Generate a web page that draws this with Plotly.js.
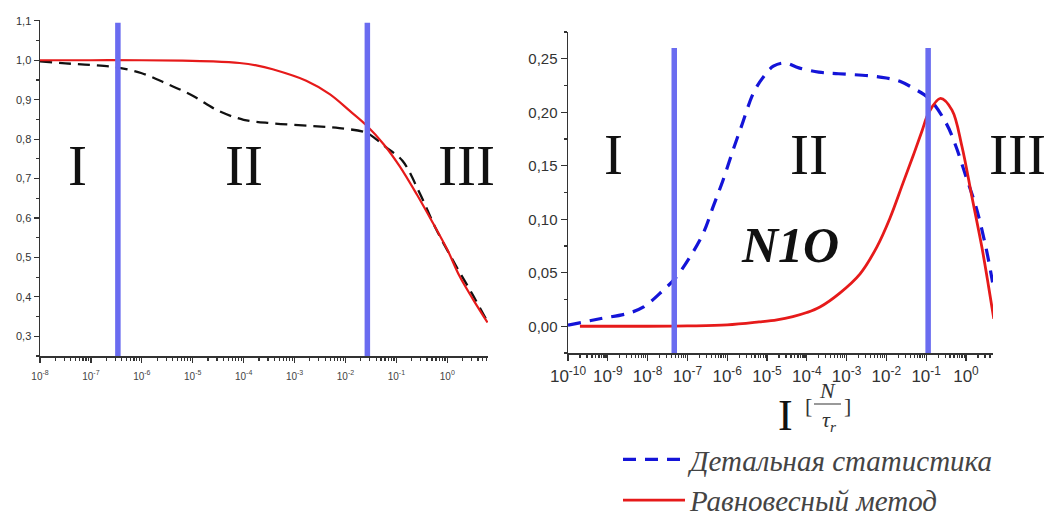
<!DOCTYPE html>
<html><head><meta charset="utf-8">
<script src="https://cdn.plot.ly/plotly-3.0.1.min.js"></script>
<style>html,body{margin:0;padding:0;background:#fff}#chart{width:1048px;height:517px}</style>
</head><body><div id="chart"></div>
<script>
// ---- Left panel data (x given as decimal exponents) ----
const leftRedExp = [-8, -7, -6, -5.2, -4.6, -4.08, -3.75, -3.43, -2.77, -2.31, -1.92, -1.59, -1.25, -0.94, -0.6, -0.29, 0, 0.235, 0.5, 0.79];
const leftRed    = [1.0, 1.0, 1.0, 0.999, 0.997, 0.993, 0.987, 0.977, 0.948, 0.914, 0.872, 0.835, 0.787, 0.732, 0.66, 0.589, 0.52, 0.454, 0.395, 0.335];
const leftBlackExp = [-8, -7.5, -7, -6.5, -6, -5.5, -5, -4.5, -4, -3.43, -2.65, -2.12, -1.59, -1.4, -1.2, -0.88, -0.55, -0.22, 0.17, 0.5, 0.76];
const leftBlack    = [0.997, 0.992, 0.988, 0.982, 0.967, 0.94, 0.91, 0.872, 0.849, 0.840, 0.833, 0.828, 0.816, 0.80, 0.779, 0.745, 0.665, 0.572, 0.479, 0.405, 0.344];
const leftBoundsExp = [-6.47, -1.57];
const leftBoundsY = [0.25, 1.095];

// ---- Right panel data ----
const rightBlueExp = [-10, -9.2, -8.5, -8.1, -7.6, -7.3, -6.93, -6.6, -6.35, -6.1, -5.85, -5.64, -5.34, -5.09, -4.84, -4.55, -4.2, -3.7, -3.2, -2.4, -2.0, -1.66, -1.3, -0.93, -0.5, -0.25, 0.0, 0.25, 0.5, 0.67];
const rightBlue    = [0.001, 0.007, 0.012, 0.018, 0.034, 0.045, 0.065, 0.087, 0.112, 0.137, 0.165, 0.187, 0.218, 0.233, 0.243, 0.246, 0.2415, 0.2375, 0.236, 0.234, 0.232, 0.229, 0.222, 0.213, 0.19, 0.168, 0.14, 0.112, 0.074, 0.041];
const rightRedExp = [-9.7, -8, -7, -6, -5.2, -4.75, -4.35, -4.0, -3.67, -3.17, -2.66, -2.24, -1.91, -1.58, -1.32, -1.1, -0.93, -0.64, -0.35, -0.1, 0.15, 0.4, 0.57, 0.7];
const rightRed    = [0.0, 0.0, 0.0003, 0.0012, 0.004, 0.006, 0.009, 0.0128, 0.018, 0.031, 0.049, 0.074, 0.101, 0.134, 0.160, 0.183, 0.200, 0.213, 0.202, 0.168, 0.121, 0.074, 0.037, 0.007];
const rightBoundsExp = [-7.33, -0.95];
const rightBoundsY = [-0.025, 0.26];

// ---- Text ----
const regionLabels = ['I', 'II', 'III'];
const seriesNames = ['Детальная статистика', 'Равновесный метод'];
const panelLabel = 'N1O';
const leftTickExp = [-8, -7, -6, -5, -4, -3, -2, -1, 0];
const rightTickExp = [-10, -9, -8, -7, -6, -5, -4, -3, -2, -1, 0];

const pow10 = a => a.map(e => Math.pow(10, e));
const tickText = a => a.map(e => '10<sup>' + (e < 0 ? '-' + Math.abs(e) : e) + '</sup>');
function minorVals(lo, hi) {
  const v = [];
  for (let k = lo; k <= hi; k++) for (let m = 2; m <= 9; m++) v.push(m * Math.pow(10, k));
  return v;
}
function boundTrace(exps, yr, xa, ya) {
  const x = [], y = [];
  exps.forEach(e => { const v = Math.pow(10, e); x.push(v, v, null); y.push(yr[0], yr[1], null); });
  return {x, y, xaxis: xa, yaxis: ya, mode: 'lines', showlegend: false, hoverinfo: 'skip',
          line: {color: '#6a6cf0', width: 5.5}};
}

const RED = '#e61a1a';
const traces = [
  {x: pow10(leftBlackExp), y: leftBlack, xaxis: 'x', yaxis: 'y', mode: 'lines', showlegend: false,
   line: {color: '#111', width: 2.3, dash: '12px,7px', shape: 'spline'}},
  {x: pow10(leftRedExp), y: leftRed, xaxis: 'x', yaxis: 'y', mode: 'lines', showlegend: false,
   line: {color: RED, width: 2.2, shape: 'spline'}},
  boundTrace(leftBoundsExp, leftBoundsY, 'x', 'y'),
  {x: pow10(rightBlueExp), y: rightBlue, xaxis: 'x2', yaxis: 'y2', mode: 'lines', name: seriesNames[0],
   line: {color: '#1414d8', width: 3.2, dash: '13px,9px', shape: 'spline'}},
  {x: pow10(rightRedExp), y: rightRed, xaxis: 'x2', yaxis: 'y2', mode: 'lines', name: seriesNames[1],
   line: {color: RED, width: 2.8, shape: 'spline'}},
  boundTrace(rightBoundsExp, rightBoundsY, 'x2', 'y2')
];

const W = 1048, H = 517;
const px = x => x / W, py = y => 1 - y / H;
const axCommon = {ticks: 'outside', tickcolor: '#333', tickwidth: 1.2, showline: true, linecolor: '#333',
                  linewidth: 1.5, showgrid: false, zeroline: false, automargin: false};

const numeral = (t, x, y) => ({text: t, x: px(x), y: py(y), xref: 'paper', yref: 'paper', showarrow: false,
  xanchor: 'center', yanchor: 'middle', font: {family: 'Liberation Serif', size: 57, color: '#111'}});

const annotations = [
  numeral(regionLabels[0], 77, 165), numeral(regionLabels[1], 244, 165), numeral(regionLabels[2], 466, 165),
  numeral(regionLabels[0], 613, 155), numeral(regionLabels[1], 809, 155), numeral(regionLabels[2], 1017, 155),
  {text: panelLabel, x: px(790), y: py(245), xref: 'paper', yref: 'paper', showarrow: false, xanchor: 'center', yanchor: 'middle',
   font: {family: 'Liberation Serif', size: 50, color: '#111', weight: 'bold', style: 'italic'}},
  {text: 'I', x: px(785), y: py(415), xref: 'paper', yref: 'paper', showarrow: false, xanchor: 'center', yanchor: 'middle',
   font: {family: 'Liberation Serif', size: 44, color: '#111'}},
  {text: '[', x: px(808), y: py(405), xref: 'paper', yref: 'paper', showarrow: false, xanchor: 'center', yanchor: 'middle',
   font: {family: 'Liberation Serif', size: 22, color: '#333'}},
  {text: ']', x: px(847), y: py(405), xref: 'paper', yref: 'paper', showarrow: false, xanchor: 'center', yanchor: 'middle',
   font: {family: 'Liberation Serif', size: 22, color: '#333'}},
  {text: 'N', x: px(827), y: py(390), xref: 'paper', yref: 'paper', showarrow: false, xanchor: 'center', yanchor: 'middle',
   font: {family: 'Liberation Serif', size: 22, color: '#333', style: 'italic'}},
  {text: 'τ<sub>r</sub>', x: px(829), y: py(421), xref: 'paper', yref: 'paper', showarrow: false, xanchor: 'center', yanchor: 'middle',
   font: {family: 'Liberation Serif', size: 22, color: '#333', style: 'italic'}}
];

const layout = {
  width: W, height: H, margin: {l: 0, r: 0, t: 0, b: 0, autoexpand: false}, paper_bgcolor: '#fff', plot_bgcolor: 'rgba(0,0,0,0)',
  separators: ',.', showlegend: true,
  legend: {x: px(618), y: py(434), xanchor: 'left', yanchor: 'top', itemwidth: 62, bgcolor: 'rgba(0,0,0,0)',
           font: {family: 'Liberation Serif', size: 29, style: 'italic', color: '#444'}},
  xaxis: Object.assign({}, axCommon, {type: 'log', domain: [px(40), px(488)], range: [-8, 0.8], anchor: 'y',
    tickmode: 'array', tickvals: pow10(leftTickExp), ticktext: tickText(leftTickExp), ticklen: 5, ticklabelstandoff: 5,
    tickfont: {family: 'Arial', size: 10, color: '#444'},
    minor: {ticks: 'outside', ticklen: 3, tickcolor: '#333', tickmode: 'array', tickvals: minorVals(-8, 0)}}),
  yaxis: Object.assign({}, axCommon, {domain: [py(356), py(20)], range: [0.25, 1.102], anchor: 'x',
    tickmode: 'linear', tick0: 0.3, dtick: 0.1, tickformat: '.1f', ticklen: 5,
    tickfont: {family: 'Arial', size: 11, color: '#333'},
    minor: {ticks: 'outside', ticklen: 3, tickcolor: '#333', dtick: 0.05}}),
  xaxis2: Object.assign({}, axCommon, {type: 'log', domain: [px(568), px(993)], range: [-10, 0.68], anchor: 'y2',
    tickmode: 'array', tickvals: pow10(rightTickExp), ticktext: tickText(rightTickExp), ticklen: 6, ticklabelstandoff: 1,
    tickfont: {family: 'Arial', size: 17, color: '#333'},
    minor: {ticks: 'outside', ticklen: 3, tickcolor: '#333', tickmode: 'array', tickvals: minorVals(-10, 0)}}),
  yaxis2: Object.assign({}, axCommon, {domain: [py(353), py(32)], range: [-0.025, 0.275], anchor: 'x2',
    tickmode: 'linear', tick0: 0, dtick: 0.05, tickformat: '.2f', ticklen: 6,
    tickfont: {family: 'Arial', size: 15, color: '#333'},
    minor: {ticks: 'outside', ticklen: 3, tickcolor: '#333', dtick: 0.025}}),
  shapes: [{type: 'line', xref: 'paper', yref: 'paper', x0: px(814), x1: px(841), y0: py(404), y1: py(404),
            line: {color: '#555', width: 1.2}}],
  annotations: annotations
};

Plotly.newPlot('chart', traces, layout, {displayModeBar: false, staticPlot: true});
</script></body></html>
